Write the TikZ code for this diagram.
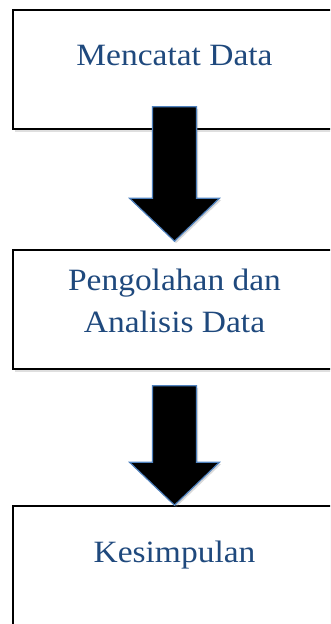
\documentclass[tikz,border=0pt]{standalone}
\usepackage{fontspec}
\setmainfont[FakeStretch=1.08]{Liberation Serif}
\usepackage{tikz}
\usetikzlibrary{arrows.meta,positioning,calc,shadows}

\definecolor{textblue}{RGB}{31,73,125}
\definecolor{edgeblue}{RGB}{79,129,189}

% thick down arrow from a start point to a tip point
\newcommand{\blockarrow}[2]{%
  \draw[blockarrow] let \p1=(#1), \p2=(#2) in
    (\x1-22pt,\y1) -- (\x1+22pt,\y1) -- (\x1+22pt,\y2+43pt)
    -- (\x1+45pt,\y2+43pt) -- (\x2,\y2) -- (\x1-45pt,\y2+43pt)
    -- (\x1-22pt,\y2+43pt) -- cycle;}

\begin{document}
\begin{tikzpicture}[x=1pt,y=1pt,
  stepbox/.style={draw=black,line width=1.6pt,fill=white,minimum width=323pt,
    inner sep=0pt,drop shadow={shadow xshift=1.5pt,shadow yshift=-3pt,opacity=.25}},
  steptext/.style={text=textblue,font=\fontsize{31}{42}\selectfont,align=center,anchor=base},
  blockarrow/.style={fill=black,draw=edgeblue,line width=1.2pt,line join=miter,
    drop shadow={shadow xshift=1.5pt,shadow yshift=-2pt,opacity=.3}}]
\useasboundingbox (0,0) rectangle (330,-624);
\clip (0,0) rectangle (330,-624);

\node[stepbox,minimum height=119pt] (catat) at (174.5,-69.5) {};
\node[stepbox,minimum height=119pt] (olah) at (174.5,-309.5) {};
\node[stepbox,minimum height=120pt] (simpul) at (174.5,-566) {};

% the base of a two-line node is its last line
\node[steptext] (tcatat) at (174.5,-65) {Mencatat Data};
\node[steptext] (tolah) at (174.5,-332) {Pengolahan dan\\Analisis Data};
\node[steptext] (tsimpul) at (174.5,-562) {Kesimpulan};

% arrows between the steps
\coordinate (a1) at ($(catat.south)+(0,23)$);
\coordinate (a1tip) at ($(olah.north)+(0,8)$);
\coordinate (a2) at ($(olah.south)+(0,-16)$);
\coordinate (a2tip) at (simpul.north);
\blockarrow{a1}{a1tip}
\blockarrow{a2}{a2tip}
\end{tikzpicture}
\end{document}
